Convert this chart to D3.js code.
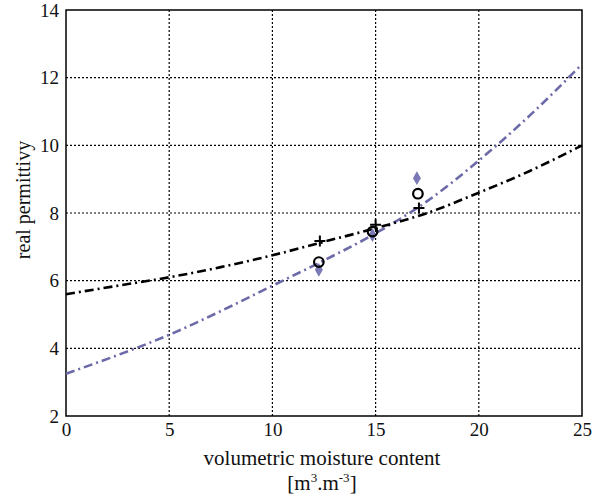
<!DOCTYPE html>
<html><head><meta charset="utf-8">
<script src="https://cdn.jsdelivr.net/npm/d3@7"></script>
<style>body{margin:0;background:#fff}svg{display:block}</style>
</head><body>
<svg id="c" width="601" height="498"></svg>
<script>
const xTicks = [0,5,10,15,20,25];
const yTicks = [2,4,6,8,10,12,14];
const curveX = [0,2.5,5,7.5,10,12.5,15,17.5,20,22.5,25];
const blackCurve = [5.6,5.85,6.1,6.4,6.75,7.15,7.55,8.0,8.6,9.25,10.0];
const blueCurve = [3.25,3.8,4.4,5.1,5.85,6.6,7.4,8.35,9.55,10.9,12.4];
const plusX = [12.3,15.0,17.1], plusY = [7.17,7.65,8.15];
const circX = [12.25,14.85,17.05], circY = [6.55,7.45,8.57];
const diaX = [12.25,14.85,17.0], diaY = [6.32,7.35,9.03];

const FONT = "'Liberation Serif','DejaVu Serif','Times New Roman',serif";
const svg = d3.select("#c").style("font-family", FONT);
const L=66,R=582,T=10,B=416;
const x = d3.scaleLinear().domain([0,25]).range([L,R]);
const y = d3.scaleLinear().domain([2,14]).range([B,T]);

// grid
const g = svg.append("g");
g.selectAll(".vg").data(xTicks.slice(1,-1)).enter().append("line")
 .attr("x1",d=>x(d)).attr("x2",d=>x(d)).attr("y1",T).attr("y2",B)
 .attr("stroke","#000").attr("stroke-width",1.2).attr("stroke-dasharray","2,2");
g.selectAll(".hg").data(yTicks.slice(1,-1)).enter().append("line")
 .attr("y1",d=>y(d)).attr("y2",d=>y(d)).attr("x1",L).attr("x2",R)
 .attr("stroke","#000").attr("stroke-width",1.2).attr("stroke-dasharray","2,2");

// axes
const xa = svg.append("g").attr("transform",`translate(0,${B})`)
 .call(d3.axisBottom(x).tickValues(xTicks).tickSize(0).tickPadding(7));
const ya = svg.append("g").attr("transform",`translate(${L},0)`)
 .call(d3.axisLeft(y).tickValues(yTicks).tickSize(0).tickPadding(7));
[xa,ya].forEach(a=>{a.attr("font-family",FONT).attr("font-size",19);a.select(".domain").remove();a.selectAll("text").attr("fill","#111");});
svg.append("rect").attr("x",L).attr("y",T).attr("width",R-L).attr("height",B-T)
 .attr("fill","none").attr("stroke","#000").attr("stroke-width",1.5);

// curves
const line = d3.line().x((d,i)=>x(curveX[i])).y(d=>y(d)).curve(d3.curveMonotoneX);
svg.append("path").datum(blueCurve).attr("d",line).attr("fill","none")
 .attr("stroke","#6c6aa8").attr("stroke-width",2.6).attr("stroke-dasharray","9,4,2,4");
svg.append("path").datum(blackCurve).attr("d",line).attr("fill","none")
 .attr("stroke","#000").attr("stroke-width",2.6).attr("stroke-dasharray","9,4,2,4");

// markers
svg.selectAll(".dia").data(diaX).enter().append("path")
 .attr("d",d3.symbol().type(d3.symbolDiamond).size(55)())
 .attr("transform",(d,i)=>`translate(${x(d)},${y(diaY[i])})`)
 .attr("fill","#7a78b5");
svg.selectAll(".circ").data(circX).enter().append("circle")
 .attr("cx",d=>x(d)).attr("cy",(d,i)=>y(circY[i])).attr("r",4.8)
 .attr("fill","none").attr("stroke","#000").attr("stroke-width",2.2);
svg.selectAll(".plus").data(plusX).enter().append("path")
 .attr("d","M-5.5,0H5.5M0,-5.5V5.5")
 .attr("transform",(d,i)=>`translate(${x(d)},${y(plusY[i])})`)
 .attr("stroke","#000").attr("stroke-width",2);

// labels
svg.append("text").attr("x",(L+R)/2-2).attr("y",465).attr("text-anchor","middle")
 .attr("font-size",21).attr("fill","#111").text("volumetric moisture content");
const t2 = svg.append("text").attr("x",(L+R)/2-2).attr("y",490).attr("text-anchor","middle").attr("font-size",21).attr("fill","#111");
t2.append("tspan").text("[m");
t2.append("tspan").attr("dy",-8).attr("font-size",13).text("3");
t2.append("tspan").attr("dy",8).text(".m");
t2.append("tspan").attr("dy",-8).attr("font-size",13).text("-3");
t2.append("tspan").attr("dy",8).text("]");
svg.append("text").attr("transform",`translate(30,200) rotate(-90)`)
 .attr("text-anchor","middle").attr("font-size",20).attr("fill","#111").text("real permittivy");
</script>
</body></html>
